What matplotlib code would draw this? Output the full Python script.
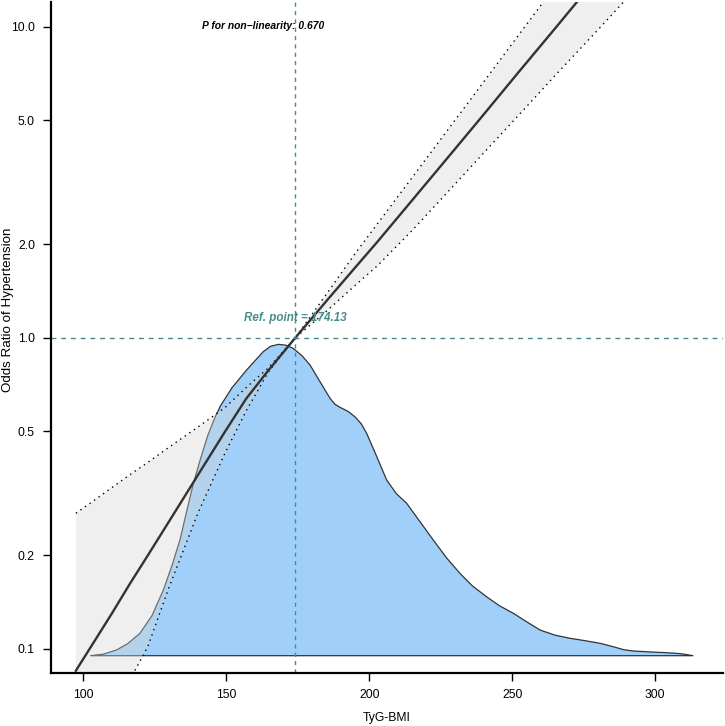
import matplotlib
matplotlib.use("Agg")
import matplotlib.pyplot as plt

plt.rcParams['font.family'] = ['Liberation Sans', 'DejaVu Sans']

# valeurs
tyg = [97.4, 102.2, 110, 116.3, 122.6, 130, 140, 149.6, 157, 164.7, 174.13,
       185, 195, 202.9, 215, 228, 238.6, 252, 265.5, 280, 295, 313]
odds = [0.0851, 0.100, 0.130, 0.162, 0.200, 0.257, 0.361, 0.500, 0.638, 0.785, 1.0,
        1.312, 1.679, 2.037, 2.767, 3.846, 5.035, 7.10, 10.0, 14.5, 21.4, 33.9]
upper = [0.273, 0.293, 0.330, 0.363, 0.398, 0.445, 0.516, 0.597, 0.692, 0.800, 1.0,
         1.380, 1.862, 2.328, 3.273, 4.732, 6.383, 9.333, 13.68, 20.65, 31.6, 52.5]
lower = [0.0282, 0.0372, 0.0562, 0.0794, 0.102, 0.158, 0.272, 0.427, 0.583, 0.776, 1.0,
         1.216, 1.472, 1.706, 2.213, 2.979, 3.802, 5.164, 7.047, 9.772, 13.80, 20.89]

# densite de TyG-BMI
dens_x = [102.4, 107, 111.6, 115.5, 119.8, 124, 128, 131, 133.8, 136.2, 138.5,
          141, 143.5, 146, 148, 152, 157.1, 162.9, 165.5, 168.3, 171, 173.4,
          176.5, 179.3, 183, 186.3, 188, 189.8, 192.5, 195, 197.2, 199.1, 202.5,
          206.1, 209.5, 213.1, 217.5, 222.4, 227, 231.7, 236, 241, 245.5, 250.4,
          255, 259.7, 265, 270.2, 275.5, 280.7, 285.3, 289, 292.3, 298, 304,
          309, 313.3]
dens_y = [0, 0.000075, 0.000285, 0.0006, 0.00112, 0.002, 0.003285, 0.0045,
          0.005785, 0.00725, 0.00862, 0.00985, 0.011, 0.0119, 0.0125, 0.0134,
          0.014285, 0.0152, 0.015475, 0.01557, 0.015525, 0.01537, 0.015, 0.014535,
          0.01365, 0.01287, 0.012575, 0.01242, 0.012225, 0.01195, 0.0116, 0.01112,
          0.01, 0.008785, 0.0081, 0.00762, 0.00675, 0.005785, 0.0049, 0.00412,
          0.0035, 0.00295, 0.0025, 0.00212, 0.0017, 0.001285, 0.001025, 0.00087,
          0.00075, 0.00062, 0.00045, 0.0003, 0.000235, 0.00019, 0.00015, 0.0001, 0]

ref_x = 174.13
y_ticks = [0.1, 0.2, 0.5, 1.0, 2.0, 5.0, 10.0]
y_labels = ['0.1', '0.2', '0.5', '1.0', '2.0', '5.0', '10.0']
x_ticks = [100, 150, 200, 250, 300]

teal = '#468C8C'

fig = plt.figure(figsize=(7.25, 7.26), dpi=100)
ax = fig.add_axes([0.0703, 0.0726, 0.9269, 0.9246])
ax2 = ax.twinx()
ax.set_zorder(ax2.get_zorder() + 1)
ax.patch.set_visible(False)

# densite (axe secondaire)
ax2.fill(dens_x, dens_y, facecolor='#A0D0FA', edgecolor='#333333', lw=0.9)
ax2.set_ylim(-0.00088, 0.03269)
ax2.set_yticks([])
for s in ax2.spines.values():
    s.set_visible(False)

# bande IC + courbe
ax.fill_between(tyg, lower, upper, facecolor='#D6D6D6', alpha=0.37, lw=0)
ax.plot(tyg, upper, color='black', lw=1.0, ls=(0, (1, 3)))
ax.plot(tyg, lower, color='black', lw=1.0, ls=(0, (1, 3)))
ax.plot(tyg, odds, color='#333333', lw=1.7)

ax.axhline(1.0, color=teal, lw=1.0, ls=(0, (3.5, 3.5)))
ax.axvline(ref_x, color=teal, lw=1.0, ls=(0, (3, 3)))

ax.set_yscale('log')
ax.set_xlim(88.7, 323.7)
ax.set_ylim(0.0835, 12.0)
ax.set_yticks(y_ticks)
ax.set_yticklabels(y_labels)
ax.yaxis.set_minor_locator(matplotlib.ticker.NullLocator())
ax.set_xticks(x_ticks)

ax.spines['top'].set_visible(False)
ax.spines['right'].set_visible(False)
ax.spines['left'].set_linewidth(1.6)
ax.spines['bottom'].set_linewidth(1.6)
ax.tick_params(length=5.5, width=1, labelsize=8.7, pad=6)

ax.set_xlabel('TyG-BMI', fontsize=8.7)
ax.set_ylabel('Odds Ratio of Hypertension', fontsize=9.6)
ax.xaxis.set_label_coords(0.5, -0.058)
ax.yaxis.set_label_coords(-0.055, 0.541)

ax.text(162.8, 10.05, 'P for non\u2212linearity: 0.670', fontsize=7.4,
        fontweight='bold', style='italic', ha='center', va='center')
ax.text(ref_x, 1.155, 'Ref. point = 174.13', fontsize=8.4, color=teal,
        fontweight='bold', style='italic', ha='center', va='center')

fig.savefig('out.png', dpi=100)
